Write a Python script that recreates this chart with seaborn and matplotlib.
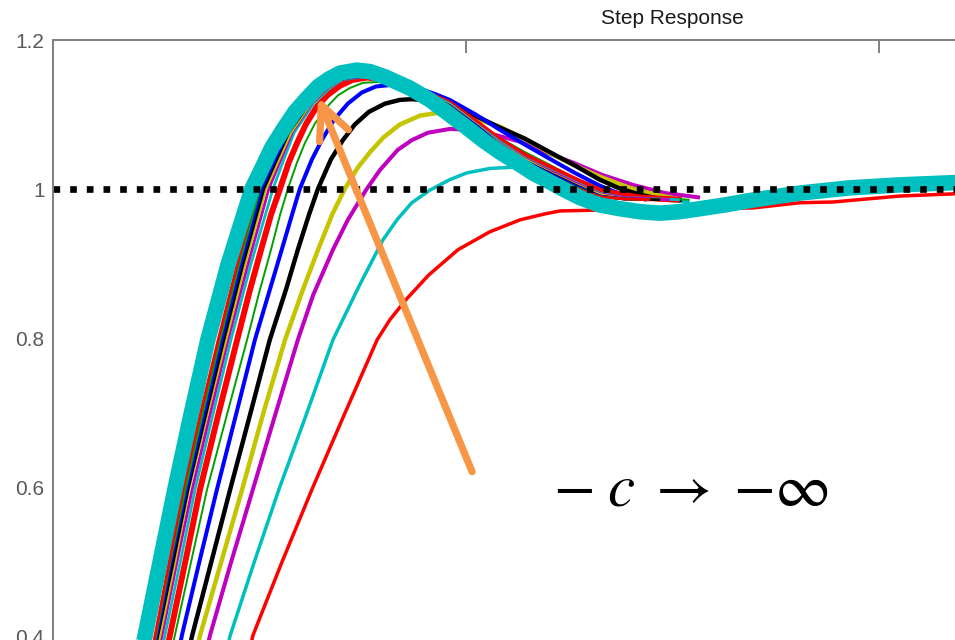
import seaborn as sns
import matplotlib.pyplot as plt

# step responses (time in s, amplitude)
# slowest response first, limit case (thick cyan) last
t_red1 = [0.465, 0.484, 0.554, 0.627, 0.705, 0.785, 0.816, 0.855, 0.910, 0.981, 1.058, 1.131, 1.191, 1.228, 1.308, 1.446, 1.567, 1.695, 1.809, 1.889, 2.051, 2.184, 2.400]
a_red1 = [0.351, 0.401, 0.499, 0.597, 0.697, 0.798, 0.825, 0.852, 0.885, 0.919, 0.943, 0.959, 0.967, 0.971, 0.972, 0.974, 0.974, 0.975, 0.982, 0.983, 0.991, 0.994, 0.997]

t_cyan2 = [0.409, 0.429, 0.487, 0.547, 0.613, 0.678, 0.743, 0.799, 0.833, 0.869, 0.913, 0.961, 1.002, 1.058, 1.123, 1.179, 1.228, 1.288, 1.349, 1.421, 1.494, 1.542]
a_cyan2 = [0.351, 0.401, 0.499, 0.597, 0.697, 0.798, 0.872, 0.932, 0.959, 0.982, 0.999, 1.013, 1.022, 1.028, 1.030, 1.028, 1.019, 1.009, 0.997, 0.989, 0.985, 0.983]

t_mag3 = [0.361, 0.380, 0.431, 0.484, 0.538, 0.593, 0.630, 0.678, 0.714, 0.758, 0.792, 0.835, 0.869, 0.908, 0.961, 1.010, 1.058, 1.131, 1.191, 1.259, 1.332, 1.404, 1.482, 1.567]
a_mag3 = [0.351, 0.401, 0.499, 0.597, 0.697, 0.798, 0.858, 0.919, 0.959, 0.999, 1.026, 1.053, 1.066, 1.076, 1.081, 1.080, 1.075, 1.064, 1.050, 1.036, 1.019, 1.006, 0.995, 0.989]

t_yel4 = [0.337, 0.356, 0.407, 0.458, 0.508, 0.562, 0.605, 0.642, 0.676, 0.707, 0.738, 0.768, 0.801, 0.840, 0.889, 0.937, 0.985, 1.034, 1.082, 1.148, 1.215, 1.276, 1.324, 1.397, 1.458, 1.523]
a_yel4 = [0.351, 0.401, 0.499, 0.597, 0.697, 0.798, 0.865, 0.919, 0.966, 1.001, 1.029, 1.050, 1.070, 1.087, 1.099, 1.103, 1.100, 1.093, 1.084, 1.066, 1.045, 1.029, 1.017, 1.002, 0.993, 0.986]

t_blk5 = [0.317, 0.337, 0.383, 0.429, 0.477, 0.525, 0.564, 0.593, 0.620, 0.642, 0.673, 0.702, 0.731, 0.765, 0.804, 0.840, 0.869, 0.913, 0.961, 1.022, 1.082, 1.143, 1.203, 1.264, 1.324, 1.373, 1.421, 1.470, 1.523]
a_blk5 = [0.351, 0.401, 0.499, 0.597, 0.697, 0.798, 0.865, 0.919, 0.966, 1.001, 1.040, 1.066, 1.087, 1.104, 1.115, 1.120, 1.121, 1.119, 1.112, 1.099, 1.083, 1.068, 1.050, 1.032, 1.013, 1.001, 0.993, 0.987, 0.986]

t_blu6 = [0.295, 0.312, 0.354, 0.397, 0.443, 0.489, 0.525, 0.554, 0.579, 0.598, 0.627, 0.651, 0.680, 0.714, 0.748, 0.782, 0.816, 0.852, 0.889, 0.925, 0.961, 1.022, 1.082, 1.143, 1.203, 1.264, 1.324, 1.373, 1.438]
a_blu6 = [0.351, 0.401, 0.499, 0.597, 0.697, 0.798, 0.865, 0.919, 0.966, 1.001, 1.040, 1.066, 1.093, 1.115, 1.130, 1.138, 1.140, 1.139, 1.135, 1.128, 1.120, 1.101, 1.080, 1.060, 1.041, 1.022, 1.005, 0.994, 0.986]

t_grn7 = [0.276, 0.295, 0.334, 0.373, 0.421, 0.470, 0.501, 0.528, 0.550, 0.569, 0.591, 0.610, 0.634, 0.661, 0.690, 0.719, 0.751, 0.785, 0.821, 0.864, 0.913, 0.961, 1.022, 1.082, 1.143, 1.203, 1.264, 1.324, 1.421, 1.542]
a_grn7 = [0.351, 0.401, 0.499, 0.597, 0.697, 0.798, 0.865, 0.919, 0.966, 1.001, 1.036, 1.062, 1.088, 1.109, 1.126, 1.136, 1.143, 1.144, 1.142, 1.134, 1.124, 1.112, 1.091, 1.069, 1.050, 1.033, 1.015, 0.999, 0.990, 0.986]

t_red8 = [0.264, 0.283, 0.320, 0.356, 0.400, 0.446, 0.477, 0.504, 0.528, 0.550, 0.571, 0.591, 0.613, 0.639, 0.666, 0.695, 0.726, 0.760, 0.797, 0.840, 0.901, 0.961, 1.022, 1.082, 1.143, 1.203, 1.264, 1.324, 1.421, 1.518]
a_red8 = [0.351, 0.401, 0.499, 0.597, 0.697, 0.798, 0.865, 0.919, 0.966, 1.001, 1.036, 1.062, 1.088, 1.111, 1.127, 1.139, 1.147, 1.150, 1.148, 1.142, 1.130, 1.115, 1.091, 1.066, 1.045, 1.029, 1.013, 0.998, 0.989, 0.986]

t_cyn9 = [0.252, 0.271, 0.308, 0.344, 0.387, 0.431, 0.479, 0.533, 0.559, 0.584, 0.632, 0.671, 0.700, 0.753, 0.792, 0.840, 0.901, 0.961, 1.022, 1.082, 1.143, 1.203, 1.264, 1.324, 1.385, 1.518]
a_cyn9 = [0.351, 0.401, 0.499, 0.597, 0.697, 0.798, 0.899, 1.001, 1.040, 1.076, 1.116, 1.136, 1.147, 1.151, 1.150, 1.143, 1.131, 1.115, 1.089, 1.064, 1.042, 1.026, 1.010, 0.995, 0.989, 0.986]

t_mag10 = [0.245, 0.264, 0.300, 0.337, 0.380, 0.424, 0.472, 0.523, 0.552, 0.579, 0.627, 0.666, 0.697, 0.751, 0.792, 0.840, 0.901, 0.961, 1.022, 1.082, 1.143, 1.203, 1.264, 1.324, 1.385, 1.494]
a_mag10 = [0.351, 0.401, 0.499, 0.597, 0.697, 0.798, 0.899, 1.001, 1.040, 1.076, 1.116, 1.136, 1.147, 1.151, 1.150, 1.143, 1.131, 1.113, 1.088, 1.062, 1.041, 1.025, 1.009, 0.994, 0.989, 0.986]

t_yel11 = [0.240, 0.259, 0.295, 0.329, 0.373, 0.419, 0.465, 0.516, 0.547, 0.576, 0.625, 0.663, 0.695, 0.748, 0.792, 0.840, 0.901, 0.961, 1.022, 1.082, 1.143, 1.203, 1.264, 1.324, 1.385, 1.470]
a_yel11 = [0.351, 0.401, 0.499, 0.597, 0.697, 0.798, 0.899, 1.001, 1.040, 1.076, 1.116, 1.136, 1.147, 1.152, 1.150, 1.144, 1.131, 1.113, 1.088, 1.061, 1.040, 1.023, 1.007, 0.993, 0.987, 0.986]

t_blk12 = [0.235, 0.254, 0.291, 0.327, 0.370, 0.414, 0.460, 0.511, 0.542, 0.571, 0.622, 0.661, 0.692, 0.746, 0.792, 0.840, 0.901, 0.961, 1.022, 1.082, 1.143, 1.203, 1.264, 1.324, 1.385, 1.470]
a_blk12 = [0.351, 0.401, 0.499, 0.597, 0.697, 0.798, 0.899, 1.001, 1.040, 1.076, 1.116, 1.136, 1.147, 1.152, 1.151, 1.144, 1.131, 1.112, 1.087, 1.060, 1.038, 1.022, 1.006, 0.991, 0.987, 0.986]

t_blu13 = [0.232, 0.252, 0.286, 0.324, 0.366, 0.409, 0.455, 0.506, 0.538, 0.569, 0.620, 0.659, 0.690, 0.743, 0.792, 0.840, 0.901, 0.961, 1.022, 1.082, 1.143, 1.203, 1.264, 1.324, 1.385, 1.446]
a_blu13 = [0.351, 0.401, 0.499, 0.597, 0.697, 0.798, 0.899, 1.001, 1.040, 1.076, 1.116, 1.136, 1.147, 1.152, 1.151, 1.144, 1.131, 1.112, 1.087, 1.060, 1.038, 1.021, 1.005, 0.991, 0.987, 0.986]

t_grn14 = [0.230, 0.249, 0.283, 0.320, 0.361, 0.404, 0.450, 0.501, 0.533, 0.564, 0.617, 0.656, 0.688, 0.741, 0.792, 0.840, 0.901, 0.961, 1.022, 1.082, 1.143, 1.203, 1.264, 1.324, 1.385, 1.446]
a_grn14 = [0.351, 0.401, 0.499, 0.597, 0.697, 0.798, 0.899, 1.001, 1.040, 1.076, 1.116, 1.136, 1.147, 1.154, 1.151, 1.146, 1.131, 1.111, 1.085, 1.058, 1.037, 1.019, 1.003, 0.990, 0.987, 0.986]

t_red15 = [0.228, 0.247, 0.281, 0.315, 0.356, 0.400, 0.446, 0.496, 0.528, 0.562, 0.615, 0.654, 0.685, 0.738, 0.792, 0.840, 0.901, 0.961, 1.022, 1.082, 1.143, 1.203, 1.264, 1.324, 1.385, 1.446]
a_red15 = [0.351, 0.401, 0.499, 0.597, 0.697, 0.798, 0.899, 1.001, 1.040, 1.076, 1.116, 1.136, 1.147, 1.154, 1.151, 1.146, 1.131, 1.111, 1.084, 1.057, 1.036, 1.018, 1.002, 0.990, 0.987, 0.986]

t_limit = [0.203, 0.223, 0.259, 0.295, 0.334, 0.375, 0.424, 0.482, 0.504, 0.530, 0.557, 0.586, 0.613, 0.642, 0.668, 0.695, 0.736, 0.768, 0.804, 0.864, 0.913, 0.961, 1.002, 1.041, 1.082, 1.123, 1.162, 1.203, 1.240, 1.276, 1.324, 1.373, 1.421, 1.470, 1.518, 1.567, 1.627, 1.688, 1.748, 1.809, 1.930, 2.051, 2.184, 2.400]
a_limit = [0.351, 0.401, 0.499, 0.597, 0.697, 0.798, 0.899, 1.001, 1.026, 1.056, 1.080, 1.104, 1.121, 1.138, 1.148, 1.156, 1.160, 1.158, 1.151, 1.136, 1.120, 1.100, 1.083, 1.066, 1.050, 1.036, 1.022, 1.010, 0.999, 0.989, 0.979, 0.974, 0.970, 0.968, 0.970, 0.974, 0.979, 0.985, 0.990, 0.995, 1.002, 1.006, 1.009, 1.010]

steady_state = 1.0
y_ticks = [0.4, 0.6, 0.8, 1.0, 1.2]
y_tick_labels = ['0.4', '0.6', '0.8', '1', '1.2']
x_ticks = [0, 1, 2, 3]

arrow_tail = (1.015, 0.621)
arrow_tip = (0.642, 1.124)
label_pos = (1.545, 0.597)

sns.set_style("white")
plt.rcParams['font.family'] = ['Liberation Sans', 'DejaVu Sans']
plt.rcParams['mathtext.fontset'] = 'stix'

# matlab colour order
c_r, c_g, c_b = '#ff0000', '#00a000', '#0000ff'
c_c, c_m, c_y, c_k = '#00bfbf', '#bf00bf', '#c4c400', '#000000'

curves = [
    (t_red1, a_red1, c_r, 2.5),
    (t_cyan2, a_cyan2, c_c, 2.5),
    (t_mag3, a_mag3, c_m, 2.9),
    (t_yel4, a_yel4, c_y, 3.2),
    (t_blk5, a_blk5, c_k, 3.2),
    (t_blu6, a_blu6, c_b, 2.9),
    (t_grn7, a_grn7, c_g, 1.4),
    (t_red8, a_red8, c_r, 4.3),
    (t_cyn9, a_cyn9, c_c, 2.0),
    (t_mag10, a_mag10, c_m, 2.0),
    (t_yel11, a_yel11, c_y, 2.0),
    (t_blk12, a_blk12, c_k, 2.0),
    (t_blu13, a_blu13, c_b, 2.0),
    (t_grn14, a_grn14, c_g, 2.0),
    (t_red15, a_red15, c_r, 2.0),
    (t_limit, a_limit, c_c, 11.2),
]

fig = plt.figure(figsize=(9.55, 6.4), dpi=100)
# the original is a crop: the axes runs past the right and bottom edges
ax = fig.add_axes([0.0555, -0.460, 1.297, 1.397])

for t, a, col, lw in curves:
    sns.lineplot(x=t, y=a, color=col, linewidth=lw, ax=ax,
                 estimator=None, sort=False, solid_capstyle='butt')

ax.axhline(steady_state, color='black', linewidth=4.8, linestyle=(0, (1, 1.5)))

ax.annotate('', xy=arrow_tip, xytext=arrow_tail,
            arrowprops=dict(arrowstyle='->,head_length=1.2,head_width=0.56',
                            color='#f79646', lw=5.2, mutation_scale=20,
                            shrinkA=0, shrinkB=0))
ax.text(label_pos[0], label_pos[1], r'${-}\;c\;\rightarrow\;{-}\infty$',
        fontsize=44, ha='center', va='center', color='black')

ax.set_xlim(0, 3)
ax.set_ylim(0, 1.2)
ax.set_xticks(x_ticks)
ax.set_yticks(y_ticks)
ax.set_yticklabels(y_tick_labels)
ax.tick_params(direction='in', length=9.2, width=1.4, color='#808080',
               labelsize=15, labelcolor='#5a5a5a', top=True, right=True, pad=6)
ax.tick_params(axis='x', labelbottom=False)
for sp in ax.spines.values():
    sp.set_color('#808080')
    sp.set_linewidth(1.4)

ax.set_title('Step Response', fontsize=15, color='#1a1a1a', pad=11.5)

fig.savefig('out.png', dpi=100)
